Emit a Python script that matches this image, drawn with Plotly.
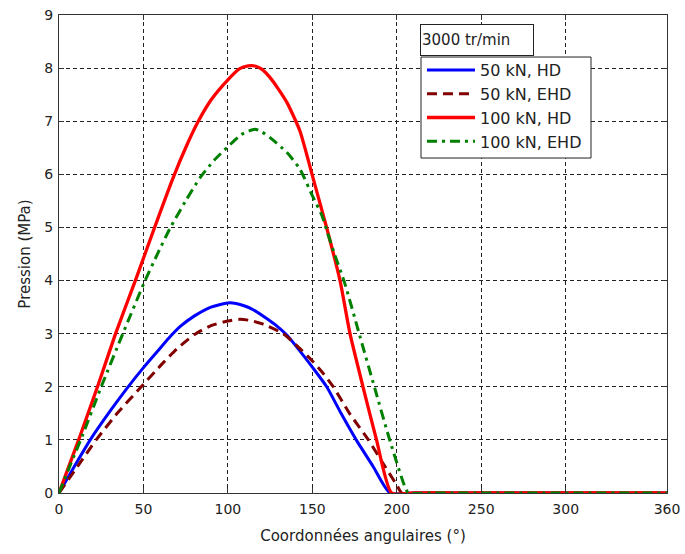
import plotly.graph_objects as go

# ---------------- data ----------------
ang_50_hd = [0, 10, 18.5, 30, 40, 50, 60, 66, 72, 80, 90, 101, 110, 115, 121, 128, 135, 142, 150, 158.5, 167, 176, 186, 196, 210, 360]
p_50_hd = [0, 0.55, 1.0, 1.53, 1.96, 2.36, 2.73, 2.95, 3.14, 3.33, 3.5, 3.58, 3.52, 3.45, 3.33, 3.17, 2.97, 2.7, 2.37, 2.0, 1.5, 1.0, 0.5, 0, 0, 0]

ang_50_ehd = [0, 11, 22, 35, 48.7, 61.6, 70, 81, 90, 100, 107, 113, 120, 132.7, 140, 149.6, 156, 162.4, 172, 183.2, 192, 200, 203, 215, 360]
p_50_ehd = [0, 0.5, 1.0, 1.52, 2.0, 2.45, 2.72, 3.0, 3.15, 3.24, 3.27, 3.25, 3.19, 3.0, 2.8, 2.5, 2.27, 2.0, 1.5, 1.0, 0.55, 0.15, 0, 0, 0]

ang_100_hd = [0, 5, 12.2, 23, 33.5, 45.8, 56.6, 67.5, 75, 82, 90, 100, 107, 112, 116, 120, 125, 130, 135, 142.6, 150, 158.6, 166.4, 172.3, 180, 188, 197, 210, 360]
p_100_hd = [0, 0.43, 1.05, 2.02, 3.0, 4.05, 5.0, 5.93, 6.5, 6.97, 7.4, 7.78, 7.99, 8.04, 8.04, 7.98, 7.82, 7.6, 7.35, 6.82, 5.98, 4.98, 4.0, 3.0, 2.0, 1.0, 0, 0, 0]

ang_100_ehd = [0, 7, 14.1, 25, 37.8, 50.7, 58.6, 66, 75, 83.4, 92, 100, 108, 116, 120, 125, 135, 142.6, 150, 155.6, 159, 163, 169, 178, 187, 196, 205, 207, 220, 360]
p_100_ehd = [0, 0.55, 1.1, 2.0, 3.0, 3.98, 4.52, 5.0, 5.5, 5.93, 6.27, 6.52, 6.75, 6.85, 6.8, 6.69, 6.41, 6.1, 5.6, 5.23, 4.9, 4.51, 3.97, 2.97, 1.97, 0.98, 0.1, 0, 0, 0]

x_tickvals = [0, 50, 100, 150, 200, 250, 300, 360]
x_ticktext = ["0", "50", "100", "150", "200", "250", "300", "360"]
y_tickvals = [0, 1, 2, 3, 4, 5, 6, 7, 8, 9]

series_names = ["50 kN, HD", "50 kN, EHD", "100 kN, HD", "100 kN, EHD"]
legend_title = "3000 tr/min"

# ---------------- figure ----------------
FONT = "DejaVu Sans"
SM = 0.6
fig = go.Figure()
fig.add_trace(go.Scatter(x=ang_50_hd, y=p_50_hd, mode="lines", name=series_names[0],
                         line=dict(color="#0000FF", width=3, shape="spline", smoothing=SM)))
fig.add_trace(go.Scatter(x=ang_50_ehd, y=p_50_ehd, mode="lines", name=series_names[1],
                         line=dict(color="#800000", width=3, dash="10px,6px", shape="spline", smoothing=SM)))
fig.add_trace(go.Scatter(x=ang_100_hd, y=p_100_hd, mode="lines", name=series_names[2],
                         line=dict(color="#FF0000", width=3.3, shape="spline", smoothing=SM)))
fig.add_trace(go.Scatter(x=ang_100_ehd, y=p_100_ehd, mode="lines", name=series_names[3],
                         line=dict(color="#008000", width=3, dash="10px,5px,3px,5px", shape="spline", smoothing=SM)))

axis_common = dict(
    showline=True, linecolor="#333333", linewidth=1, mirror="ticks",
    ticks="inside", ticklen=5, tickcolor="#333333",
    showgrid=True, gridcolor="#222222", gridwidth=1, griddash="4px,3px",
    zeroline=False, automargin=False,
    tickfont=dict(family=FONT, size=14, color="#222222"),
)

fig.update_xaxes(range=[0, 360], tickvals=x_tickvals, ticktext=x_ticktext,
                 title=dict(text="Coordonnées angulaires (°)", font=dict(family=FONT, size=15, color="#222222"), standoff=14),
                 ticklabelstandoff=3, **axis_common)
fig.update_yaxes(range=[0, 9], tickvals=y_tickvals,
                 title=dict(text="Pression (MPa)", font=dict(family=FONT, size=15, color="#222222"), standoff=10),
                 ticklabelstandoff=2, **axis_common)

fig.update_layout(
    width=685, height=554,
    margin=dict(l=59, r=18, t=15, b=61, autoexpand=False),
    paper_bgcolor="white", plot_bgcolor="white",
    font=dict(family=FONT, size=14, color="#222222"),
    legend=dict(x=0.597, y=0.9205, xanchor="left", yanchor="top",
                bgcolor="rgba(0,0,0,0)", borderwidth=0,
                font=dict(family=FONT, size=16, color="#222222"),
                tracegroupgap=0, itemwidth=48),
    shapes=[dict(type="rect", xref="paper", yref="paper",
                 x0=0.5954, x1=0.875, y0=0.7008, y1=0.9121,
                 fillcolor="white", line=dict(color="#222222", width=1), layer="above")],
    annotations=[dict(text=legend_title, xref="paper", yref="paper",
                      x=0.5934, y=0.914, xanchor="left", yanchor="bottom",
                      showarrow=False, align="left", width=110, height=28,
                      bgcolor="white", bordercolor="#222222", borderwidth=1, borderpad=1,
                      font=dict(family=FONT, size=15, color="#222222"))],
)

fig.write_html("out.html", config={"displayModeBar": False},
               post_script="document.body.style.margin='0px';")
